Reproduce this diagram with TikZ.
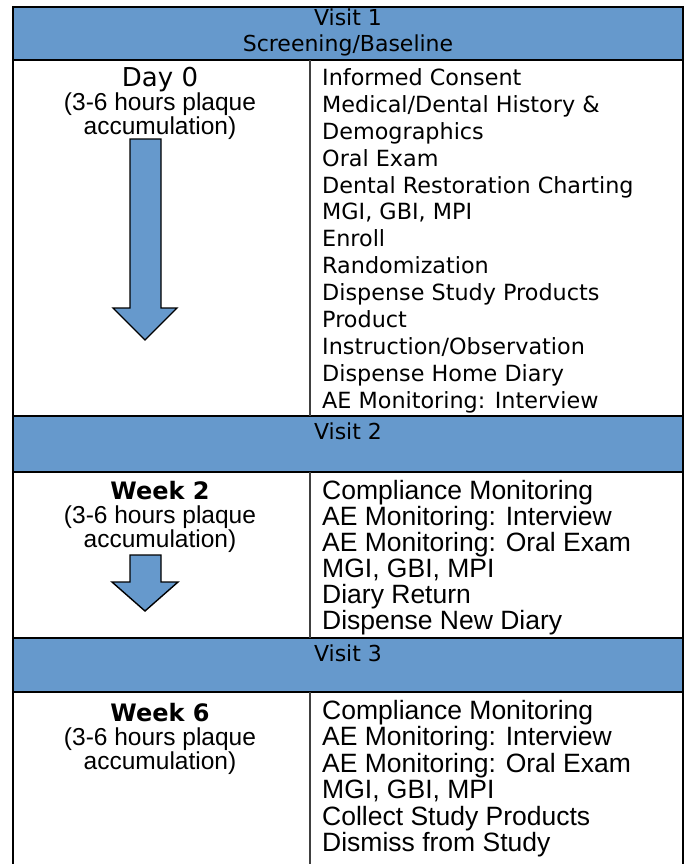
\documentclass[tikz,border=0pt]{standalone}
\usepackage{fontspec}
\setmainfont{Liberation Sans}
\newfontfamily\widefont{DejaVu Sans}
\usetikzlibrary{positioning}
\definecolor{visitblue}{RGB}{102,153,204}
\begin{document}
\begin{tikzpicture}[x=1pt, y=-1pt,
  every node/.style = {inner sep=0pt, anchor=base},
  band/.style = {fill=visitblue},
  rule/.style = {line width=2.8pt},
  visit/.style = {font=\widefont\fontsize{22}{26}\selectfont},
  day/.style = {font=\widefont\fontsize{26}{26}\selectfont},
  week/.style = {font=\widefont\bfseries\fontsize{24}{26}\selectfont},
  note/.style = {font=\fontsize{24.5}{24}\selectfont},
  todo/.style = {anchor=base west, font=\widefont\fontsize{22.3}{26}\selectfont},
  task/.style = {anchor=base west, font=\fontsize{26.5}{26}\selectfont},
  down/.style = {fill=visitblue, draw=black, line width=1.4pt, line join=miter}]
  \useasboundingbox (0,0) rectangle (686,864);
  % visit bands
  \fill[band] (13,7) rectangle (683,60);
  \fill[band] (13,416) rectangle (683,472);
  \fill[band] (13,638) rectangle (683,692);
  \draw[line width=2pt] (13,870) -- (13,7) -- (683,7) -- (683,870);
  \foreach \y in {60,416,472,638,692}
    \draw[rule] (13,\y) -- (683,\y);
  \draw[line width=1.6pt, black!75] (310,60) -- (310,416)
    (310,472) -- (310,638) (310,692) -- (310,870);
  \node[visit] (v1) at (348,26) {Visit 1};
  \node[visit] (base) at (348,52) {Screening/Baseline};
  \node[visit] (v2) at (348,439) {Visit 2};
  \node[visit] (v3) at (348,661) {Visit 3};
  % left column
  \node[day] (d0) at (160,87) {Day 0};
  \node[note] (d0a) at (160,111) {(3-6 hours plaque};
  \node[note] (d0b) at (160,135) {accumulation)};
  \node[week] (w2) at (160,499) {Week 2};
  \node[note] (w2a) at (160,523) {(3-6 hours plaque};
  \node[note] (w2b) at (160,547) {accumulation)};
  \node[week] (w6) at (160,721) {Week 6};
  \node[note] (w6a) at (160,745) {(3-6 hours plaque};
  \node[note] (w6b) at (160,769) {accumulation)};
  \draw[down] (130,139) -- (161,139) -- (161,308) -- (177,308) -- (145,340)
    -- (113,308) -- (130,308) -- cycle;
  \draw[down] (130,555) -- (161,555) -- (161,582) -- (178,582) -- (145,611)
    -- (112,582) -- (130,582) -- cycle;
  % right column
  \foreach \t [count=\i] in {Informed Consent, Medical/Dental History \&,
    Demographics, Oral Exam, Dental Restoration Charting, {MGI, GBI, MPI},
    Enroll, Randomization, Dispense Study Products, Product,
    Instruction/Observation, Dispense Home Diary, AE Monitoring: Interview}
    \node[todo] (one-\i) at (322,{85.4+26.9*(\i-1)}) {\t};
  \foreach \t [count=\i] in {Compliance Monitoring, AE Monitoring: Interview,
    AE Monitoring: Oral Exam, {MGI, GBI, MPI}, Diary Return, Dispense New Diary}
    \node[task] (two-\i) at (322,{499+26*(\i-1)}) {\t};
  \foreach \t [count=\i] in {Compliance Monitoring, AE Monitoring: Interview,
    AE Monitoring: Oral Exam, {MGI, GBI, MPI}, Collect Study Products,
    Dismiss from Study}
    \node[task] (six-\i) at (322,{719+26.5*(\i-1)}) {\t};
\end{tikzpicture}
\end{document}
